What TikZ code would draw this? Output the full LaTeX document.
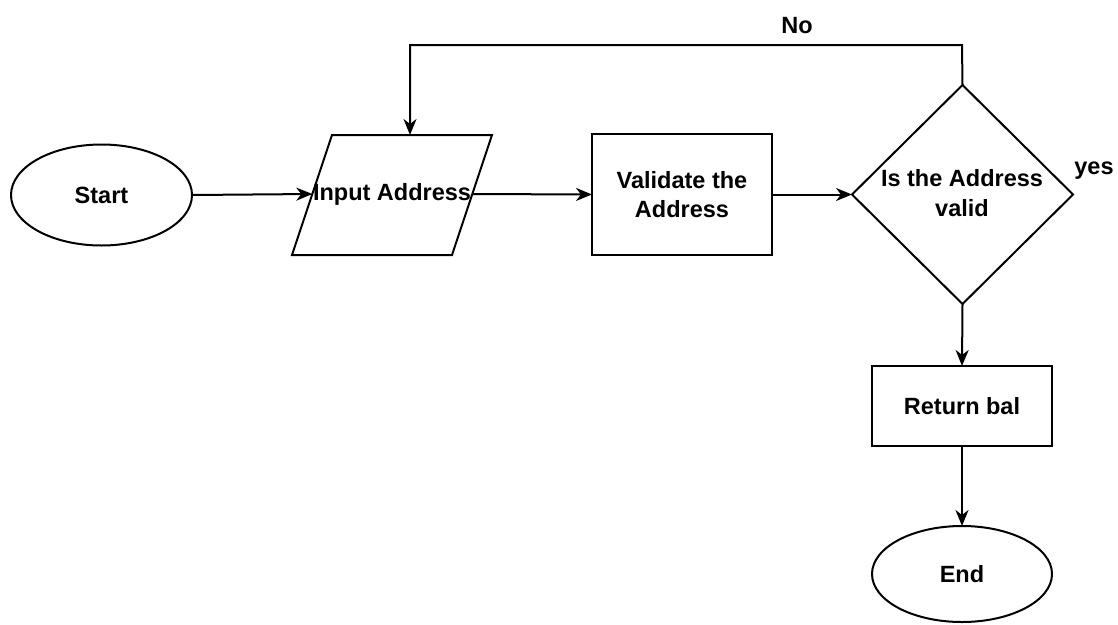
\documentclass[tikz,border=0pt]{standalone}
\usepackage{fontspec}
\setmainfont{Liberation Sans}
\usetikzlibrary{shapes.geometric,arrows.meta}
\tikzset{
  shp/.style={draw=black, line width=2pt, fill=white, inner sep=0pt, outer sep=0pt},
  term/.style={shp, ellipse},
  proc/.style={shp, rectangle},
  lbl/.style={font=\fontsize{23.5}{29.5}\selectfont\bfseries, align=center, inner sep=0pt},
  conn/.style={line width=2pt, -{Stealth[length=16pt,width=13pt,inset=5pt]}},
}
\begin{document}
\begin{tikzpicture}[x=1pt,y=-1pt]
\useasboundingbox (0,0) rectangle (1118,624);
% Start
\node[term, minimum width=181pt, minimum height=101pt] (start) at (101.5,195) {};
\node[lbl] (startt) at (start) {Start};
% Input parallelogram
\draw[line width=2pt] (332,135) -- (492,135) -- (452,255) -- (292,255) -- cycle;
\node[lbl] (inp) at (392,194) {Input Address};
\coordinate (inpL) at (312.3,194);
\coordinate (inpR) at (472.3,194);
\coordinate (inpT) at (410,135);
% Validate
\node[proc, minimum width=180pt, minimum height=121pt] (val) at (682,194.5) {};
\node[lbl] (valt) at (val) {Validate the\\Address};
% Decision
\node[shp, diamond, minimum width=221pt, minimum height=219pt] (dec) at (962.5,194.5) {};
\node[lbl] (dect) at (962,193) {Is the Address\\valid};
% Return
\node[proc, minimum width=180pt, minimum height=80pt] (ret) at (962,406) {};
\node[lbl] (rett) at (ret) {Return bal};
% End
\node[term, minimum width=180pt, minimum height=96pt] (fin) at (962,574) {};
\node[lbl] (fint) at (fin) {End};
% labels
\node[lbl] (yes) at (1094,171) {yes};
\node[lbl] (no) at (797,26) {No};
% connectors
\draw[conn] (start.east) -- (inpL);
\draw[conn] (inpR) -- (val.west);
\draw[conn] (val.east) -- (dec.west);
\draw[conn] (dec.north) -- (962,45) -| (inpT);
\draw[conn] (dec.south) -- (ret.north);
\draw[conn] (ret.south) -- (fin.north);
\end{tikzpicture}
\end{document}
